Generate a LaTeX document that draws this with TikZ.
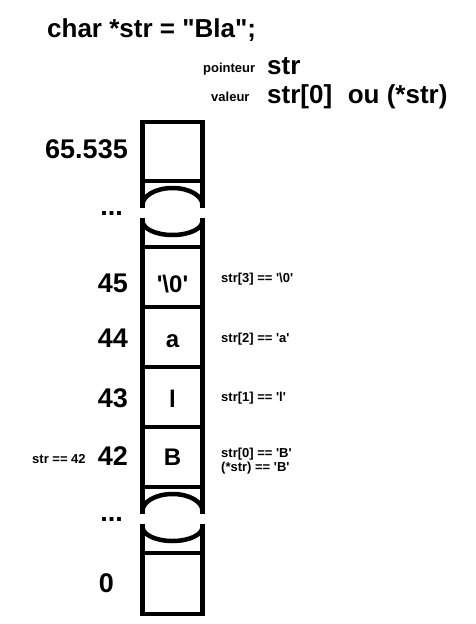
\documentclass[tikz,border=0pt]{standalone}
\usepackage{fontspec}
\setmainfont{Liberation Sans}
\usetikzlibrary{positioning}
\newcommand{\sq}{\textquotesingle}
\newcommand{\dq}{\textquotedbl}

\begin{document}
\begin{tikzpicture}[x=1pt,y=-1pt,
    wall/.style={line width=4.5pt},
    addr/.style={anchor=base east,inner sep=0pt,font=\fontsize{27}{30}\selectfont\bfseries},
    cellval/.style={anchor=base,inner sep=0pt,font=\fontsize{24}{28}\selectfont\bfseries},
    note/.style={anchor=base west,inner sep=0pt,font=\fontsize{13}{15}\selectfont\bfseries},
    big/.style={anchor=base west,inner sep=0pt,font=\fontsize{26}{30}\selectfont\bfseries}]
    \useasboundingbox (0,0) rectangle (476,624);

    % declaration and legend
    \node (decl)     at (47,37)   [big]  {char *str = \dq Bla\dq;};
    \node (ptrname)  at (203,72)  [note] {pointeur};
    \node (ptr)      at (267,74)  [big]  {str};
    \node (valname)  at (211,101) [note] {valeur};
    \node (val)      at (267,103) [big]  {str[0]\hspace{0.6em}ou (*str)};

    % memory column
    \draw[wall] (142.5,208) -- (142.5,122) -- (202.5,122) -- (202.5,208);
    \draw[wall] (142.5,218) -- (142.5,514);
    \draw[wall] (202.5,218) -- (202.5,514);
    \draw[wall] (142.5,524) -- (142.5,614) -- (202.5,614) -- (202.5,524);
    \foreach \y in {181,247,307,367,427,487,553}
        \draw[wall] (142.5,\y) -- (202.5,\y);
    \foreach \y in {181,487} {
        \draw[wall] (142.5,\y+24) arc[start angle=180,end angle=360,x radius=30,y radius=17];
        \draw[wall] (142.5,\y+40) arc[start angle=180,end angle=0,x radius=30,y radius=14];
    }

    % addresses
    \node (addrtop) at (128,158) [addr] {65.535};
    \node (dotstop) at (123,215) [addr] {...};
    \node (addr45)  at (128,292) [addr] {45};
    \node (addr44)  at (128,347) [addr] {44};
    \node (addr43)  at (128,407) [addr] {43};
    \node (addr42)  at (128,465) [addr] {42};
    \node (dotsbot) at (123,521) [addr] {...};
    \node (addr0)   at (114,592) [addr] {0};

    % cell contents
    \node (cell45) at (172.5,292) [cellval] {\sq\textbackslash 0\sq};
    \node (cell44) at (172.5,347) [cellval] {a};
    \node (cell43) at (172.5,407) [cellval] {l};
    \node (cell42) at (172.5,465) [cellval] {B};

    % notes
    \node (ptrval)  at (32,463)  [note] {str == 42};
    \node (note45)  at (221,282) [note] {str[3] == \sq\textbackslash 0\sq};
    \node (note44)  at (221,342) [note] {str[2] == \sq a\sq};
    \node (note43)  at (221,401) [note] {str[1] == \sq l\sq};
    \node (note42)  at (221,457) [note] {str[0] == \sq B\sq};
    \node (note42b) at (221,471) [note] {(*str) == \sq B\sq};
\end{tikzpicture}
\end{document}
